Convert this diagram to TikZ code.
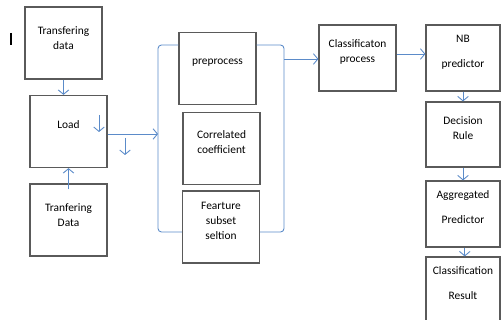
\documentclass[tikz,border=0pt]{standalone}
\usepackage{fontspec}
\setmainfont{Carlito}
\usetikzlibrary{positioning,calc,arrows.meta}
\definecolor{boxgray}{HTML}{5A5A5A}
\definecolor{linkblue}{HTML}{5B8BC9}
\tikzset{box/.style = {rectangle,draw=boxgray,line width=0.7pt,minimum width=1.54cm,minimum height=1.44cm,inner sep=0pt},
         sbox/.style = {box,minimum width=1.48cm,minimum height=1.32cm},
         txt/.style = {align=center,font=\fontsize{6.5}{8.5}\selectfont,inner sep=0pt},
         link/.style = {draw=linkblue,line width=0.5pt,-{Straight Barb[length=2.5pt,width=6pt]}},
         brace/.style = {draw=linkblue,line width=0.5pt,rounded corners=2pt}}

\begin{document}
\begin{tikzpicture}[x=0.02cm,y=-0.02cm]
    \clip (0,0) rectangle (502,320);
    \draw [line width=0.9pt] (11,33) -- (11,45);

    % left column
    \node [box] (tdata) at (63.5,43) {};
    \node [box] (load) at (68.5,131.5) {};
    \node [box] (tdata2) at (68.5,220) {};
    \node [txt] (tdata-t) at (63.5,38) {Transfering\\data};
    \node [txt] (load-t) at (68.5,125) {Load};
    \node [txt] (tdata2-t) at (68.5,215) {Tranfering\\Data};

    % middle column
    \node [box] (prep) at (217.5,68.5) {};
    \node [box] (corr) at (221.5,148.5) {};
    \node [box] (feat) at (221,227) {};
    \node [txt] (prep-t) at (217.5,63) {preprocess};
    \node [txt] (corr-t) at (221.5,142) {Correlated\\coefficient};
    \node [txt] (feat-t) at (221,220.5) {Fearture\\subset\\seltion};

    % right part
    \node [box,minimum height=1.32cm] (cproc) at (357.5,58) {};
    \node [sbox] (nb) at (463,58) {};
    \node [sbox,minimum height=1.30cm] (dec) at (463,134.5) {};
    \node [sbox] (agg) at (463,214) {};
    \node [sbox] (res) at (463,290) {};
    \node [txt] (cproc-t) at (357.5,52) {Classificaton\\process};
    \node [txt] (nb-t) at (463,52.5) {NB\\[5.7pt]predictor};
    \node [txt] (dec-t) at (463,128.5) {Decision\\Rule};
    \node [txt] (agg-t) at (463,207.5) {Aggregated\\[5.7pt]Predictor};
    \node [txt] (res-t) at (463,283) {Classification\\[5.7pt]Result};

    % brackets round the middle column
    \coordinate (lb-top) at (158,45);
    \coordinate (lb-bot) at (158,232);
    \coordinate (lb-in) at (158,134);
    \coordinate (rb-top) at (284,45);
    \coordinate (rb-bot) at (284,232);
    \coordinate (rb-out) at (284,59);
    \draw [brace] (prep.west |- lb-top) -- (lb-top) -- (lb-bot) -- (feat.west |- lb-bot);
    \draw [brace] (prep.east |- rb-top) -- (rb-top) -- (rb-bot) -- (feat.east |- rb-bot);

    % stray arrows
    \coordinate (s1) at (99,115);
    \coordinate (e1) at (99,132);
    \coordinate (s2) at (125,138);
    \coordinate (e2) at (125,155);
    \draw [link] (s1) -- (e1);
    \draw [link] (s2) -- (e2);

    \draw [link] (tdata.south) -- (tdata.south |- load.north);
    \draw [link] ($(tdata2.north)+(0,6)$) -- (load.south);
    \draw [link] (load.east |- lb-in) -- (lb-in);
    \draw [link] (rb-out) -- (rb-out -| cproc.west);
    \draw [link] ($(cproc.east)+(0,-4)$) -- ($(nb.west)+(0,-4)$);
    \draw [link] (nb.south) -- (dec.north);
    \draw [link] (dec.south) -- (agg.north);
    \draw [link] ([xshift=1pt]agg.south) -- ([xshift=1pt]res.north);
\end{tikzpicture}
\end{document}
